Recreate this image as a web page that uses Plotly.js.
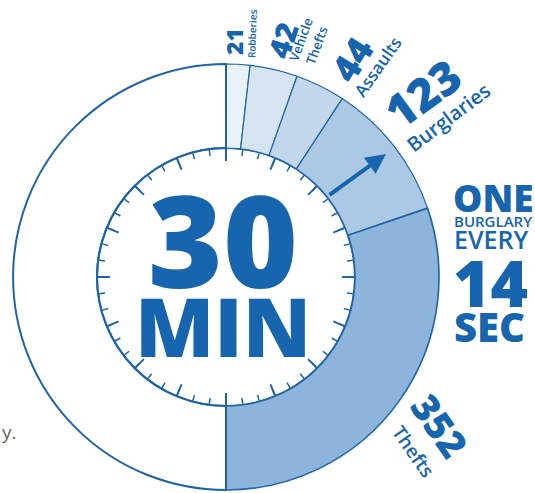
<!DOCTYPE html>
<html>
<head>
<meta charset="utf-8">
<script src="https://cdn.plot.ly/plotly-3.0.1.min.js"></script>
<style>html,body{margin:0;padding:0;background:#fff;overflow:hidden}#chart{width:535px;height:493px}</style>
</head>
<body>
<div id="chart"></div>
<script>
// ---- data ----
const categories = ['Robberies', 'Vehicle Thefts', 'Assaults', 'Burglaries', 'Thefts'];
const counts = [21, 42, 44, 123, 352];
const countLabels = ['21', '42', '44', '123', '352'];
const nameLabels = ['Robberies', 'Vehicle<br>Thefts', 'Assaults', 'Burglaries', 'Thefts'];
const periodLabel = ['30', 'MIN'];
const rateLabel = ['ONE', 'BURGLARY', 'EVERY', '14', 'SEC'];

// ---- style ----
const W = 535, H = 493;
const BLUE = '#1665ae';
const LINE = '#1f64a8';
const sliceColors = ['#e9f1f9', '#d6e4f2', '#c3d7ec', '#abc8e5', '#8db5db'];
const FONT = 'Open Sans, Noto Sans, sans-serif';
const cx = 226, cy = 277, R = 213, r = 129;
const tickCount = 48, majorEvery = 3;

const total = counts.reduce((a, b) => a + b, 0);

const pie = {
  type: 'pie',
  values: counts.concat([total]),
  labels: categories.concat(['(rest of the half hour)']),
  sort: false,
  direction: 'clockwise',
  rotation: 0,
  hole: r / R,
  textinfo: 'none',
  hoverinfo: 'label+value',
  showlegend: false,
  marker: {
    colors: sliceColors.concat(['rgba(0,0,0,0)']),
    line: {color: LINE, width: [1.2, 1.2, 1.2, 1.2, 1.6, 2]}
  },
  domain: {x: [(cx - R) / W, (cx + R) / W], y: [1 - (cy + R) / H, 1 - (cy - R) / H]}
};

// major clock ticks that cross the dial circle
const majR = [], majT = [];
for (let i = 0; i < tickCount; i += majorEvery) {
  const a = i * 360 / tickCount;
  majR.push(0.9, 1.05, null);
  majT.push(a, a, null);
}
const majors = {
  type: 'scatterpolar', r: majR, theta: majT, mode: 'lines',
  line: {color: LINE, width: 2}, cliponaxis: false, hoverinfo: 'skip', showlegend: false
};

const ann = [];
function lab(text, px, py, size, angle, extra, weight) {
  ann.push(Object.assign({
    text: text, xref: 'paper', yref: 'paper', x: px / W, y: 1 - py / H,
    xanchor: 'center', yanchor: 'middle', showarrow: false, textangle: angle,
    font: {family: FONT, size: size, color: BLUE, weight: weight || 800}
  }, extra || {}));
}
// slice labels
lab(countLabels[0], 234, 42, 23, -90);
lab(nameLabels[0], 252, 34, 10, -88, null, 600);
lab(countLabels[1], 283, 41, 30, -72);
lab(nameLabels[1], 309, 43, 13, -70, null, 600);
lab(countLabels[2], 352, 59, 37, -58);
lab(nameLabels[2], 378, 67, 17, -55, null, 600);
lab(countLabels[3], 422, 93, 46, -36);
lab(nameLabels[3], 448, 117, 20, -37, null, 600);
lab(countLabels[4], 440, 425, 38, 55);
lab(nameLabels[4], 413, 451, 19, 55, null, 600);
// center
lab(periodLabel[0], 223, 238, 128, 0);
lab(periodLabel[1], 223, 325, 82, 0);
// right block
const L = {xanchor: 'left'};
lab(rateLabel[0], 451, 198, 37, 0, L);
lab(rateLabel[1], 452, 221, 15, 0, L, 600);
lab(rateLabel[2], 452, 239, 25, 0, L, 600);
lab(rateLabel[3], 451, 282, 64, 0, L);
lab(rateLabel[4], 452, 326, 40, 0, L);
// cut-off gray text at left
lab('y.', 0, 432, 19, 0, {xanchor: 'left', font: {family: FONT, size: 19, color: '#666', weight: 400}});
// clock hand arrow
ann.push({
  xref: 'paper', yref: 'paper', x: 386 / W, y: 1 - 154 / H, ax: -58, ay: 42,
  showarrow: true, arrowhead: 2, arrowsize: 1, arrowwidth: 4, arrowcolor: BLUE, text: '', standoff: 0
});

const layout = {
  width: W, height: H, margin: {l: 0, r: 0, t: 0, b: 0},
  paper_bgcolor: '#fff', plot_bgcolor: '#fff', showlegend: false,
  polar: {
    domain: {x: [(cx - r) / W, (cx + r) / W], y: [1 - (cy + r) / H, 1 - (cy - r) / H]},
    bgcolor: 'rgba(0,0,0,0)',
    radialaxis: {visible: false, range: [0, 1]},
    angularaxis: {
      rotation: 90, direction: 'clockwise', showline: true, linecolor: LINE, linewidth: 2,
      ticks: 'inside', tickmode: 'linear', tick0: 0, dtick: 360 / tickCount, ticklen: 6,
      tickwidth: 1.5, tickcolor: LINE, showticklabels: false, showgrid: false
    }
  },
  annotations: ann
};

Plotly.newPlot('chart', [majors, pie], layout, {displayModeBar: false, staticPlot: true});
</script>
</body>
</html>
